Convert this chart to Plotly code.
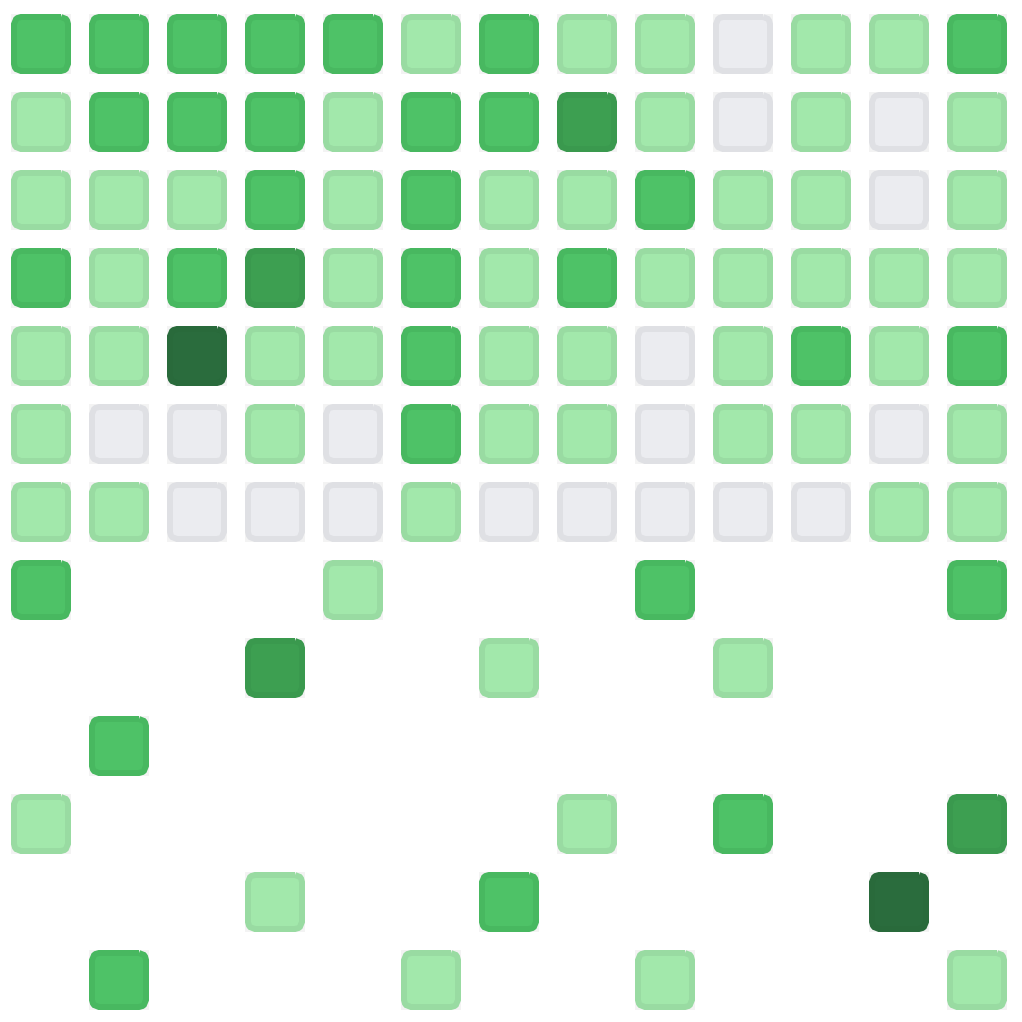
import math
import plotly.graph_objects as go

N = None

# activity level per cell (0 = none, 1..4 = intensity), None = no cell
ROW_01 = [2, 2, 2, 2, 2, 1, 2, 1, 1, 0, 1, 1, 2]
ROW_02 = [1, 2, 2, 2, 1, 2, 2, 3, 1, 0, 1, 0, 1]
ROW_03 = [1, 1, 1, 2, 1, 2, 1, 1, 2, 1, 1, 0, 1]
ROW_04 = [2, 1, 2, 3, 1, 2, 1, 2, 1, 1, 1, 1, 1]
ROW_05 = [1, 1, 4, 1, 1, 2, 1, 1, 0, 1, 2, 1, 2]
ROW_06 = [1, 0, 0, 1, 0, 2, 1, 1, 0, 1, 1, 0, 1]
ROW_07 = [1, 1, 0, 0, 0, 1, 0, 0, 0, 0, 0, 1, 1]
ROW_08 = [2, N, N, N, 1, N, N, N, 2, N, N, N, 2]
ROW_09 = [N, N, N, 3, N, N, 1, N, N, 1, N, N, N]
ROW_10 = [N, 2, N, N, N, N, N, N, N, N, N, N, N]
ROW_11 = [1, N, N, N, N, N, N, 1, N, 2, N, N, 3]
ROW_12 = [N, N, N, 1, N, N, 2, N, N, N, N, 4, N]
ROW_13 = [N, 2, N, N, N, 1, N, N, 1, N, N, N, 1]

GRID = [ROW_01, ROW_02, ROW_03, ROW_04, ROW_05, ROW_06, ROW_07,
        ROW_08, ROW_09, ROW_10, ROW_11, ROW_12, ROW_13]

FILL = {0: "#ebecf0", 1: "#a2e8ab", 2: "#4ec267", 3: "#3d9f51", 4: "#2a6c3d"}
EDGE = {0: "#dfe0e4", 1: "#99dba2", 2: "#48b860", 3: "#3a994e", 4: "#296a3b"}

PITCH = 78.0          # px per grid step
HALF = 30 / PITCH     # half cell size in data units
INSET = 3 / PITCH     # half of border width
RAD = 7 / PITCH       # corner radius of inner path


def rounded(cx, cy, h, r):
    x0, x1, y0, y1 = cx - h, cx + h, cy - h, cy + h
    xs, ys = [], []
    corners = [(x1 - r, y0 + r, -90, 0), (x1 - r, y1 - r, 0, 90),
               (x0 + r, y1 - r, 90, 180), (x0 + r, y0 + r, 180, 270)]
    for ccx, ccy, a0, a1 in corners:
        for k in range(7):
            a = math.radians(a0 + (a1 - a0) * k / 6)
            xs.append(ccx + r * math.cos(a))
            ys.append(ccy + r * math.sin(a))
    xs.append(xs[0])
    ys.append(ys[0])
    return xs, ys


fig = go.Figure()

# light grey square behind each cell
bx, by = [], []
for r, row in enumerate(GRID):
    for c, v in enumerate(row):
        if v is None:
            continue
        bx += [c - HALF, c + HALF, c + HALF, c - HALF, c - HALF, None]
        by += [r - HALF, r - HALF, r + HALF, r + HALF, r - HALF, None]
fig.add_trace(go.Scatter(x=bx, y=by, mode="lines", fill="toself",
                         fillcolor="#f3f3f3", line=dict(width=0),
                         hoverinfo="skip", showlegend=False))

for lvl in range(5):
    xs, ys = [], []
    for r, row in enumerate(GRID):
        for c, v in enumerate(row):
            if v != lvl:
                continue
            px, py = rounded(c, r, HALF - INSET, RAD)
            xs += px + [None]
            ys += py + [None]
    if not xs:
        continue
    fig.add_trace(go.Scatter(x=xs, y=ys, mode="lines", fill="toself",
                             fillcolor=FILL[lvl],
                             line=dict(color=EDGE[lvl], width=6),
                             hoverinfo="skip", showlegend=False))

# page has an 8px body margin, so first cell centre sits at 33px in the figure
fig.update_xaxes(range=[-33 / PITCH, (1022 - 33) / PITCH], visible=False)
fig.update_yaxes(range=[(1022 - 36) / PITCH, -36 / PITCH], visible=False)
fig.update_layout(width=1022, height=1022, margin=dict(l=0, r=0, t=0, b=0),
                  plot_bgcolor="white", paper_bgcolor="white")

fig.write_html("out.html")
